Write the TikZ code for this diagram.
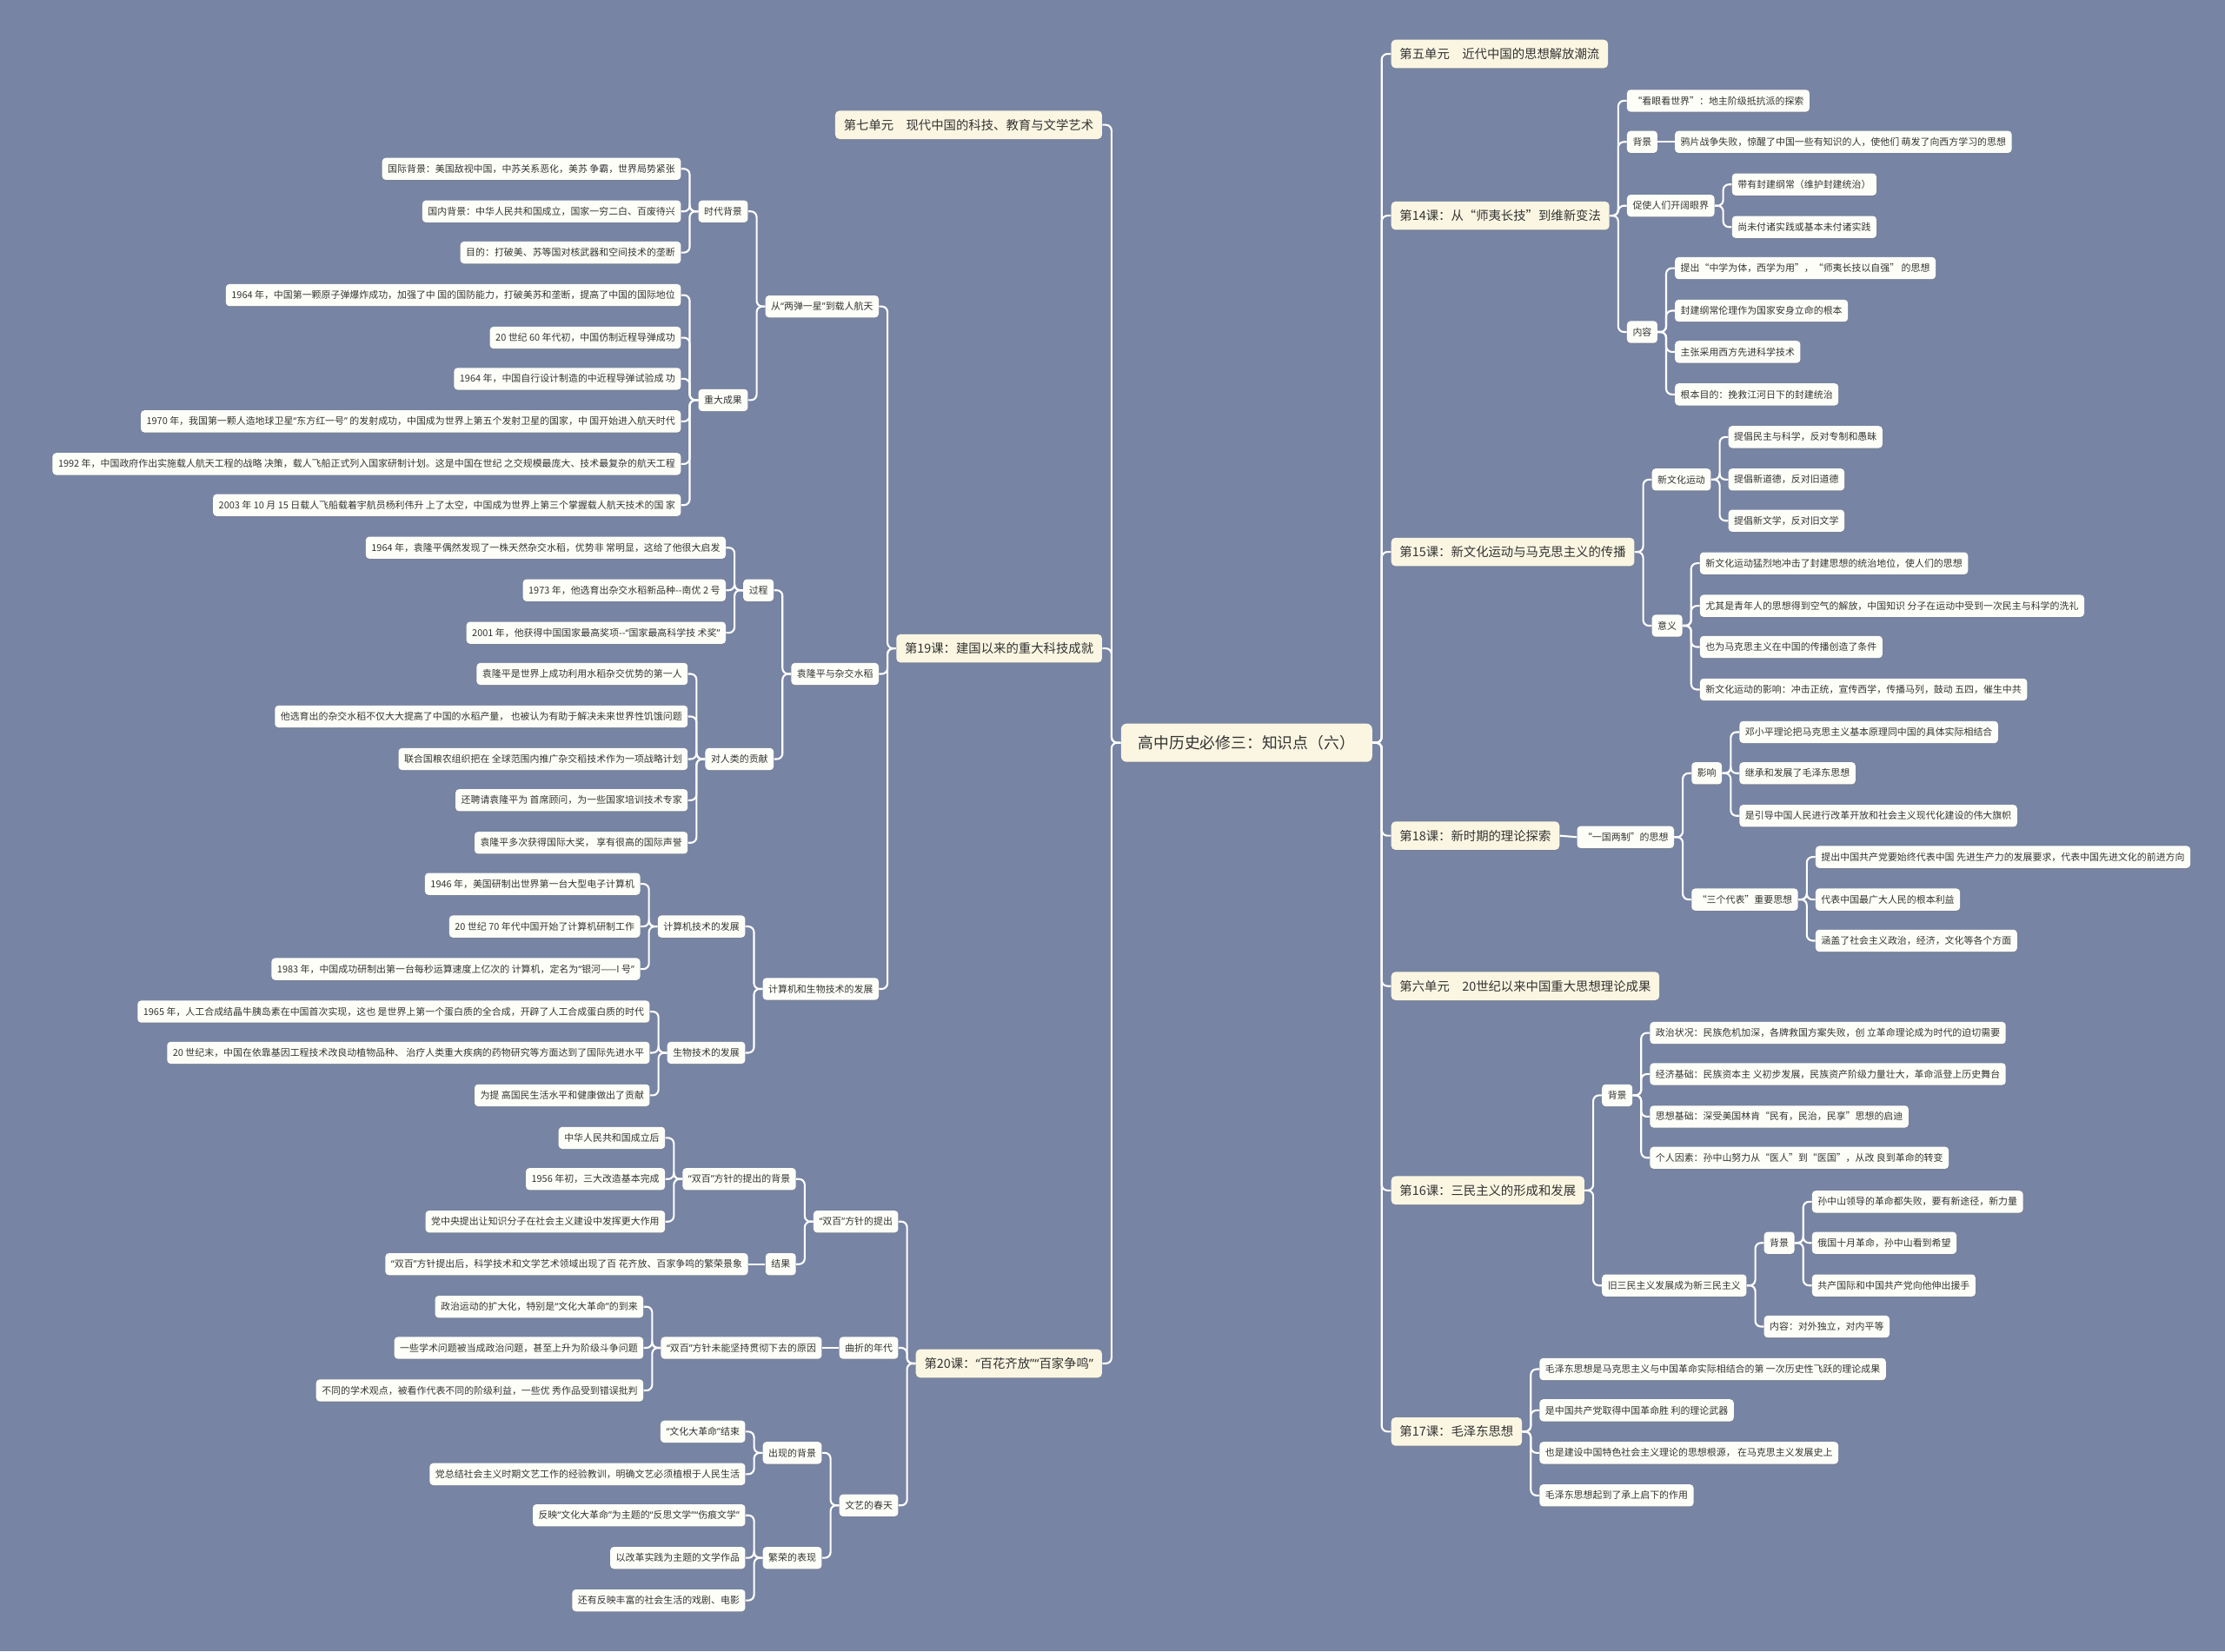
\documentclass[tikz,border=0pt]{standalone}
\usepackage{fontspec}
\setmainfont{Noto Sans CJK SC}
\newfontfamily\qfont{Noto Sans}
\newcommand\oq{{\qfont “}}
\newcommand\cq{{\qfont ”}}
\usepackage{tikz}
\usetikzlibrary{shadows}
\definecolor{bgblue}{HTML}{7784A3}
\definecolor{cream}{HTML}{FAF6E2}
\definecolor{paper}{HTML}{FEFEF9}
\definecolor{ink}{HTML}{333333}

\begin{document}
\begin{tikzpicture}[x=1pt, y=-1pt,
    link/.style={draw=white, line width=1.3pt, rounded corners=4pt},
    leaf/.style={fill=paper, rounded corners=2.5pt, text=ink, inner xsep=4pt,
                 inner ysep=0pt, minimum height=15.5pt,
                 font=\fontsize{6.7}{8}\selectfont,
                 drop shadow={shadow xshift=0pt, shadow yshift=-0.8pt, opacity=.3}},
    lesson/.style={leaf, fill=cream, rounded corners=3pt, inner xsep=6pt,
                   minimum height=20pt, font=\fontsize{8.8}{10}\selectfont},
    rootbox/.style={lesson, rounded corners=4pt, minimum width=177pt,
                    minimum height=27pt, font=\fontsize{10.9}{13}\selectfont},
    lkid/.style={leaf, anchor=east, xshift=-12pt},
    rkid/.style={leaf, anchor=west, xshift=12pt}]
  \fill[bgblue] (0,0) rectangle (1568,1164);
  \useasboundingbox (0,0) rectangle (1568,1164);

  \node[rootbox] (root) at (878.5,523.5) {高中历史必修三：知识点（六）};

  % left half
  \foreach \nm/\yy/\txt in {u7/88/{第七单元　现代中国的科技、教育与文学艺术},
      l19/457/{第19课：建国以来的重大科技成就}, l20/961/{第20课：\oq 百花齐放\cq\oq 百家争鸣\cq}}{
    \node[lesson, anchor=east, xshift=-13pt] (\nm) at (root.west |- 0,\yy) {\txt};
    \draw[link] (root.west) -- ++(-6.5,0) |- (\nm.east);}

  \foreach \nm/\yy/\txt in {ldyx/216/{从\oq 两弹一星\cq 到载人航天}, yuan/475/{袁隆平与杂交水稻},
      jsj/697/{计算机和生物技术的发展}}{
    \node[lkid] (\nm) at (l19.west |- 0,\yy) {\txt};
    \draw[link] (l19.west) -- ++(-6,0) |- (\nm.east);}

  \foreach \nm/\yy/\txt in {sdbj/149/{时代背景}, zdcg/282/{重大成果}}{
    \node[lkid] (\nm) at (ldyx.west |- 0,\yy) {\txt};
    \draw[link] (ldyx.west) -- ++(-6,0) |- (\nm.east);}
  \foreach \nm/\yy/\txt in {sd1/119/{国际背景：美国敌视中国，中苏关系恶化，美苏 争霸，世界局势紧张},
      sd2/149/{国内背景：中华人民共和国成立，国家一穷二白、百废待兴},
      sd3/178/{目的：打破美、苏等国对核武器和空间技术的垄断}}{
    \node[lkid] (\nm) at (sdbj.west |- 0,\yy) {\txt};
    \draw[link] (sdbj.west) -- ++(-6,0) |- (\nm.east);}
  \foreach \nm/\yy/\txt in {zd1/208/{1964 年，中国第一颗原子弹爆炸成功，加强了中 国的国防能力，打破美苏和垄断，提高了中国的国际地位},
      zd2/238/{20 世纪 60 年代初，中国仿制近程导弹成功},
      zd3/267/{1964 年，中国自行设计制造的中近程导弹试验成 功},
      zd4/297/{1970 年，我国第一颗人造地球卫星\oq 东方红一号\cq\ 的发射成功，中国成为世界上第五个发射卫星的国家，中 国开始进入航天时代},
      zd5/327/{1992 年，中国政府作出实施载人航天工程的战略 决策，载人飞船正式列入国家研制计划。这是中国在世纪 之交规模最庞大、技术最复杂的航天工程},
      zd6/356/{2003 年 10 月 15 日载人飞船载着宇航员杨利伟升 上了太空，中国成为世界上第三个掌握载人航天技术的国 家}}{
    \node[lkid] (\nm) at (zdcg.west |- 0,\yy) {\txt};
    \draw[link] (zdcg.west) -- ++(-6,0) |- (\nm.east);}

  \foreach \nm/\yy/\txt in {gc/416/{过程}, gx/535/{对人类的贡献}}{
    \node[lkid] (\nm) at (yuan.west |- 0,\yy) {\txt};
    \draw[link] (yuan.west) -- ++(-6,0) |- (\nm.east);}
  \foreach \nm/\yy/\txt in {gc1/386/{1964 年，袁隆平偶然发现了一株天然杂交水稻，优势非 常明显，这给了他很大启发},
      gc2/416/{1973 年，他选育出杂交水稻新品种-{}-南优 2 号},
      gc3/446/{2001 年，他获得中国国家最高奖项-{}-\oq 国家最高科学技 术奖\cq}}{
    \node[lkid] (\nm) at (gc.west |- 0,\yy) {\txt};
    \draw[link] (gc.west) -- ++(-6,0) |- (\nm.east);}
  \foreach \nm/\yy/\txt in {gx1/475/{袁隆平是世界上成功利用水稻杂交优势的第一人},
      gx2/505/{他选育出的杂交水稻不仅大大提高了中国的水稻产量， 也被认为有助于解决未来世界性饥饿问题},
      gx3/535/{联合国粮农组织把在 全球范围内推广杂交稻技术作为一项战略计划},
      gx4/564/{还聘请袁隆平为 首席顾问，为一些国家培训技术专家},
      gx5/594/{袁隆平多次获得国际大奖， 享有很高的国际声誉}}{
    \node[lkid] (\nm) at (gx.west |- 0,\yy) {\txt};
    \draw[link] (gx.west) -- ++(-6,0) |- (\nm.east);}

  \foreach \nm/\yy/\txt in {jsjfz/653/{计算机技术的发展}, swfz/742/{生物技术的发展}}{
    \node[lkid] (\nm) at (jsj.west |- 0,\yy) {\txt};
    \draw[link] (jsj.west) -- ++(-6,0) |- (\nm.east);}
  \foreach \nm/\yy/\txt in {js1/623/{1946 年，美国研制出世界第一台大型电子计算机},
      js2/653/{20 世纪 70 年代中国开始了计算机研制工作},
      js3/683/{1983 年，中国成功研制出第一台每秒运算速度上亿次的 计算机，定名为\oq 银河——I 号\cq}}{
    \node[lkid] (\nm) at (jsjfz.west |- 0,\yy) {\txt};
    \draw[link] (jsjfz.west) -- ++(-6,0) |- (\nm.east);}
  \foreach \nm/\yy/\txt in {sw1/713/{1965 年，人工合成结晶牛胰岛素在中国首次实现，这也 是世界上第一个蛋白质的全合成，开辟了人工合成蛋白质的时代},
      sw2/742/{20 世纪末，中国在依靠基因工程技术改良动植物品种、 治疗人类重大疾病的药物研究等方面达到了国际先进水平},
      sw3/772/{为提 高国民生活水平和健康做出了贡献}}{
    \node[lkid] (\nm) at (swfz.west |- 0,\yy) {\txt};
    \draw[link] (swfz.west) -- ++(-6,0) |- (\nm.east);}

  \foreach \nm/\yy/\txt in {sbtc/861/{\oq 双百\cq 方针的提出}, qzdn/950/{曲折的年代},
      wycht/1061/{文艺的春天}}{
    \node[lkid] (\nm) at (l20.west |- 0,\yy) {\txt};
    \draw[link] (l20.west) -- ++(-6,0) |- (\nm.east);}
  \foreach \nm/\yy/\txt in {sbbj/831/{\oq 双百\cq 方针的提出的背景}, jg/891/{结果}}{
    \node[lkid] (\nm) at (sbtc.west |- 0,\yy) {\txt};
    \draw[link] (sbtc.west) -- ++(-6,0) |- (\nm.east);}
  \foreach \nm/\yy/\txt in {sb1/802/{中华人民共和国成立后}, sb2/831/{1956 年初，三大改造基本完成},
      sb3/861/{党中央提出让知识分子在社会主义建设中发挥更大作用}}{
    \node[lkid] (\nm) at (sbbj.west |- 0,\yy) {\txt};
    \draw[link] (sbbj.west) -- ++(-6,0) |- (\nm.east);}
  \node[lkid] (jg1) at (jg.west |- 0,891) {\oq 双百\cq 方针提出后，科学技术和文学艺术领域出现了百 花齐放、百家争鸣的繁荣景象};
  \draw[link] (jg.west) -- (jg1.east);
  \node[lkid] (wnjc) at (qzdn.west |- 0,950) {\oq 双百\cq 方针未能坚持贯彻下去的原因};
  \draw[link] (qzdn.west) -- (wnjc.east);
  \foreach \nm/\yy/\txt in {wn1/921/{政治运动的扩大化，特别是\oq 文化大革命\cq 的到来},
      wn2/950/{一些学术问题被当成政治问题，甚至上升为阶级斗争问题},
      wn3/980/{不同的学术观点，被看作代表不同的阶级利益，一些优 秀作品受到错误批判}}{
    \node[lkid] (\nm) at (wnjc.west |- 0,\yy) {\txt};
    \draw[link] (wnjc.west) -- ++(-6,0) |- (\nm.east);}
  \foreach \nm/\yy/\txt in {cxbj/1024/{出现的背景}, frbx/1098/{繁荣的表现}}{
    \node[lkid] (\nm) at (wycht.west |- 0,\yy) {\txt};
    \draw[link] (wycht.west) -- ++(-6,0) |- (\nm.east);}
  \foreach \nm/\yy/\txt in {cx1/1009/{\oq 文化大革命\cq 结束},
      cx2/1039/{党总结社会主义时期文艺工作的经验教训，明确文艺必须植根于人民生活}}{
    \node[lkid] (\nm) at (cxbj.west |- 0,\yy) {\txt};
    \draw[link] (cxbj.west) -- ++(-6,0) |- (\nm.east);}
  \foreach \nm/\yy/\txt in {fr1/1068/{反映\oq 文化大革命\cq 为主题的\oq 反思文学\cq\oq 伤痕文学\cq},
      fr2/1098/{以改革实践为主题的文学作品}, fr3/1128/{还有反映丰富的社会生活的戏剧、电影}}{
    \node[lkid] (\nm) at (frbx.west |- 0,\yy) {\txt};
    \draw[link] (frbx.west) -- ++(-6,0) |- (\nm.east);}

  % right half
  \foreach \nm/\yy/\txt in {u5/38/{第五单元　近代中国的思想解放潮流},
      l14/152/{第14课：从“师夷长技”到维新变法},
      l15/389/{第15课：新文化运动与马克思主义的传播},
      l18/589/{第18课：新时期的理论探索},
      u6/695/{第六单元　20世纪以来中国重大思想理论成果},
      l16/839/{第16课：三民主义的形成和发展}, l17/1009/{第17课：毛泽东思想}}{
    \node[lesson, anchor=west, xshift=13pt] (\nm) at (root.east |- 0,\yy) {\txt};
    \draw[link] (root.east) -- ++(6.5,0) |- (\nm.west);}

  \foreach \nm/\yy/\txt in {kysj/71/{“看眼看世界”：地主阶级抵抗派的探索}, bj14/100/{背景},
      csr/145/{促使人们开阔眼界}, nr14/234/{内容}}{
    \node[rkid] (\nm) at (l14.east |- 0,\yy) {\txt};
    \draw[link] (l14.east) -- ++(6,0) |- (\nm.west);}
  \node[rkid] (bj14a) at (bj14.east |- 0,100) {鸦片战争失败，惊醒了中国一些有知识的人，使他们 萌发了向西方学习的思想};
  \draw[link] (bj14.east) -- (bj14a.west);
  \foreach \nm/\yy/\txt in {cs1/130/{带有封建纲常（维护封建统治）}, cs2/160/{尚未付诸实践或基本未付诸实践}}{
    \node[rkid] (\nm) at (csr.east |- 0,\yy) {\txt};
    \draw[link] (csr.east) -- ++(6,0) |- (\nm.west);}
  \foreach \nm/\yy/\txt in {nr1/189/{提出“中学为体，西学为用”，“师夷长技以自强” 的思想},
      nr2/219/{封建纲常伦理作为国家安身立命的根本}, nr3/248/{主张采用西方先进科学技术},
      nr4/278/{根本目的：挽救江河日下的封建统治}}{
    \node[rkid] (\nm) at (nr14.east |- 0,\yy) {\txt};
    \draw[link] (nr14.east) -- ++(6,0) |- (\nm.west);}

  \foreach \nm/\yy/\txt in {xwh/338/{新文化运动}, yy15/441/{意义}}{
    \node[rkid] (\nm) at (l15.east |- 0,\yy) {\txt};
    \draw[link] (l15.east) -- ++(6,0) |- (\nm.west);}
  \foreach \nm/\yy/\txt in {xw1/308/{提倡民主与科学，反对专制和愚昧}, xw2/338/{提倡新道德，反对旧道德},
      xw3/367/{提倡新文学，反对旧文学}}{
    \node[rkid] (\nm) at (xwh.east |- 0,\yy) {\txt};
    \draw[link] (xwh.east) -- ++(6,0) |- (\nm.west);}
  \foreach \nm/\yy/\txt in {yy1/397/{新文化运动猛烈地冲击了封建思想的统治地位，使人们的思想},
      yy2/427/{尤其是青年人的思想得到空气的解放，中国知识 分子在运动中受到一次民主与科学的洗礼},
      yy3/456/{也为马克思主义在中国的传播创造了条件},
      yy4/486/{新文化运动的影响：冲击正统，宣传西学，传播马列，鼓动 五四，催生中共}}{
    \node[rkid] (\nm) at (yy15.east |- 0,\yy) {\txt};
    \draw[link] (yy15.east) -- ++(6,0) |- (\nm.west);}

  \node[rkid] (ygl) at (l18.east |- 0,590) {“一国两制”的思想};
  \draw[link] (l18.east) -- (ygl.west);
  \foreach \nm/\yy/\txt in {yx/545/{影响}, sgdb/634/{“三个代表”重要思想}}{
    \node[rkid] (\nm) at (ygl.east |- 0,\yy) {\txt};
    \draw[link] (ygl.east) -- ++(6,0) |- (\nm.west);}
  \foreach \nm/\yy/\txt in {yx1/516/{邓小平理论把马克思主义基本原理同中国的具体实际相结合},
      yx2/545/{继承和发展了毛泽东思想},
      yx3/575/{是引导中国人民进行改革开放和社会主义现代化建设的伟大旗帜}}{
    \node[rkid] (\nm) at (yx.east |- 0,\yy) {\txt};
    \draw[link] (yx.east) -- ++(6,0) |- (\nm.west);}
  \foreach \nm/\yy/\txt in {sg1/604/{提出中国共产党要始终代表中国 先进生产力的发展要求，代表中国先进文化的前进方向},
      sg2/634/{代表中国最广大人民的根本利益}, sg3/663/{涵盖了社会主义政治，经济，文化等各个方面}}{
    \node[rkid] (\nm) at (sgdb.east |- 0,\yy) {\txt};
    \draw[link] (sgdb.east) -- ++(6,0) |- (\nm.west);}

  \foreach \nm/\yy/\txt in {bj16/772/{背景}, jsm/906/{旧三民主义发展成为新三民主义}}{
    \node[rkid] (\nm) at (l16.east |- 0,\yy) {\txt};
    \draw[link] (l16.east) -- ++(6,0) |- (\nm.west);}
  \foreach \nm/\yy/\txt in {bj1/728/{政治状况：民族危机加深，各牌救国方案失败，创 立革命理论成为时代的迫切需要},
      bj2/757/{经济基础：民族资本主 义初步发展，民族资产阶级力量壮大，革命派登上历史舞台},
      bj3/787/{思想基础：深受美国林肯“民有，民治，民享”思想的启迪},
      bj4/816/{个人因素：孙中山努力从“医人”到“医国”，从改 良到革命的转变}}{
    \node[rkid] (\nm) at (bj16.east |- 0,\yy) {\txt};
    \draw[link] (bj16.east) -- ++(6,0) |- (\nm.west);}
  \foreach \nm/\yy/\txt in {bj16b/876/{背景}, nr16/935/{内容：对外独立，对内平等}}{
    \node[rkid] (\nm) at (jsm.east |- 0,\yy) {\txt};
    \draw[link] (jsm.east) -- ++(6,0) |- (\nm.west);}
  \foreach \nm/\yy/\txt in {xb1/847/{孙中山领导的革命都失败，要有新途径，新力量},
      xb2/876/{俄国十月革命，孙中山看到希望}, xb3/906/{共产国际和中国共产党向他伸出援手}}{
    \node[rkid] (\nm) at (bj16b.east |- 0,\yy) {\txt};
    \draw[link] (bj16b.east) -- ++(6,0) |- (\nm.west);}

  \foreach \nm/\yy/\txt in {mz1/965/{毛泽东思想是马克思主义与中国革命实际相结合的第 一次历史性飞跃的理论成果},
      mz2/994/{是中国共产党取得中国革命胜 利的理论武器},
      mz3/1024/{也是建设中国特色社会主义理论的思想根源， 在马克思主义发展史上},
      mz4/1054/{毛泽东思想起到了承上启下的作用}}{
    \node[rkid] (\nm) at (l17.east |- 0,\yy) {\txt};
    \draw[link] (l17.east) -- ++(6,0) |- (\nm.west);}
\end{tikzpicture}
\end{document}
